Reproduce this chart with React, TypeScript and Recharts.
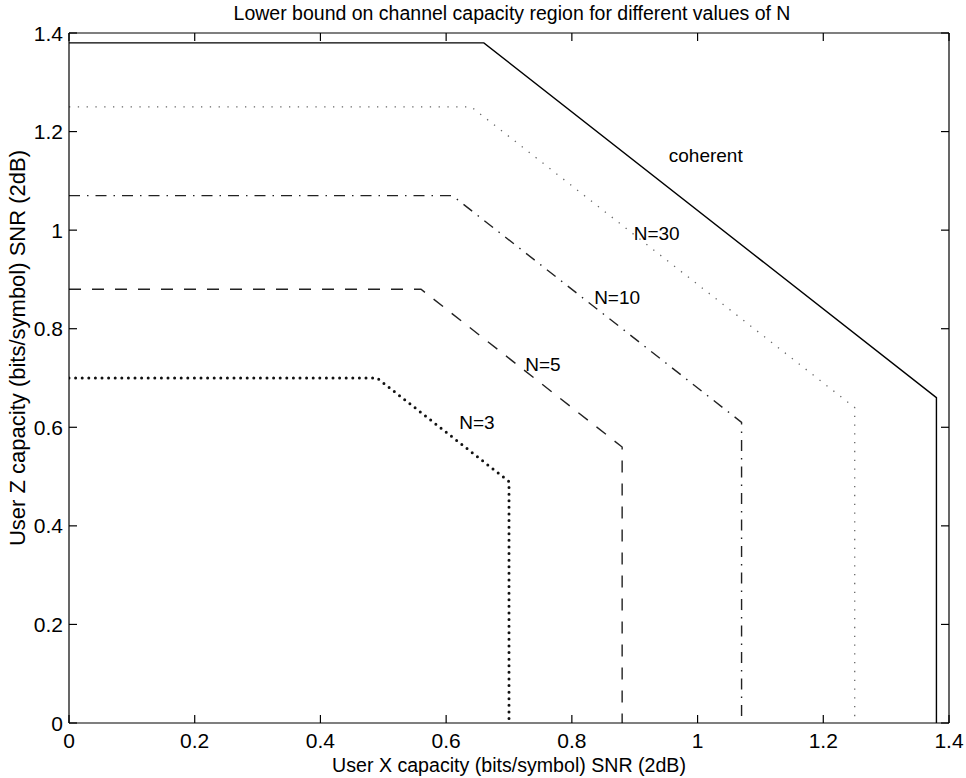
import { LineChart, Line, XAxis, YAxis, ReferenceDot, ReferenceLine } from "recharts";

// corner points of each capacity region boundary
const coherentX = [0, 0.66, 1.38, 1.38];
const coherentY = [1.38, 1.38, 0.66, 0];
const n30X = [0, 0.64, 1.25, 1.25];
const n30Y = [1.25, 1.25, 0.64, 0];
const n10X = [0, 0.61, 1.07, 1.07];
const n10Y = [1.07, 1.07, 0.61, 0];
const n5X = [0, 0.56, 0.88, 0.88];
const n5Y = [0.88, 0.88, 0.56, 0];
const n3X = [0, 0.49, 0.7, 0.7];
const n3Y = [0.7, 0.7, 0.49, 0];

const ticks = [0, 0.2, 0.4, 0.6, 0.8, 1, 1.2, 1.4];

// curve labels
const labelNames = ["coherent", "N=30", "N=10", "N=5", "N=3"];
const labelX = [1.013, 0.935, 0.872, 0.754, 0.649];
const labelY = [1.152, 0.994, 0.864, 0.728, 0.611];

const font = "'Liberation Sans', Arial, Helvetica, sans-serif";

// plot box (matches chart margins + axis sizes below)
const TOP = 33;
const RIGHT = 949;
const TICK = 8;
const TICK_FONT = 21;

const toPoints = (xs: number[], ys: number[]) =>
  xs.map((x, i) => ({ x, y: ys[i] }));

const fmt = (v: number) => String(Number(v.toFixed(1)));

// bottom tick: inward tick mark at bottom and top of the box, plus label
const XTick = (props: any) => {
  const { x, y, payload } = props;
  return (
    <g>
      <line x1={x} y1={y} x2={x} y2={y - TICK} stroke="#000" strokeWidth={1.2} />
      <line x1={x} y1={TOP} x2={x} y2={TOP + TICK} stroke="#000" strokeWidth={1.2} />
      <text
        x={x}
        y={y + 25}
        textAnchor="middle"
        fontSize={TICK_FONT}
        fontFamily={font}
        fill="#000"
      >
        {fmt(payload.value)}
      </text>
    </g>
  );
};

// left tick: inward tick mark at left and right of the box, plus label
const YTick = (props: any) => {
  const { x, y, payload } = props;
  return (
    <g>
      <line x1={x} y1={y} x2={x + TICK} y2={y} stroke="#000" strokeWidth={1.2} />
      <line x1={RIGHT} y1={y} x2={RIGHT - TICK} y2={y} stroke="#000" strokeWidth={1.2} />
      <text
        x={x - 6}
        y={y + 7.5}
        textAnchor="end"
        fontSize={TICK_FONT}
        fontFamily={font}
        fill="#000"
      >
        {fmt(payload.value)}
      </text>
    </g>
  );
};

export default function App() {
  return (
    <div
      style={{
        position: "absolute",
        left: 0,
        top: 0,
        width: 966,
        height: 778,
        background: "#fff",
        fontFamily: font,
        color: "#000",
      }}
    >
      <div
        style={{
          position: "absolute",
          left: 0,
          width: 1024,
          top: 1,
          textAlign: "center",
          fontSize: 19.5,
          lineHeight: "24px",
        }}
      >
        Lower bound on channel capacity region for different values of N
      </div>
      <div
        style={{
          position: "absolute",
          left: 0,
          width: 1018,
          top: 753,
          textAlign: "center",
          fontSize: 19.6,
          lineHeight: "24px",
        }}
      >
        User X capacity (bits/symbol) SNR (2dB)
      </div>
      <div
        style={{
          position: "absolute",
          left: 18 - 250,
          top: 348 - 12,
          width: 500,
          textAlign: "center",
          fontSize: 22,
          lineHeight: "24px",
          transform: "rotate(-90deg)",
        }}
      >
        User Z capacity (bits/symbol) SNR (2dB)
      </div>
      <LineChart
        width={966}
        height={778}
        margin={{ top: TOP, right: 966 - RIGHT, bottom: 0, left: 0 }}
        style={{ position: "absolute", left: 0, top: 0 }}
      >
        <XAxis
          dataKey="x"
          type="number"
          domain={[0, 1.4]}
          ticks={ticks}
          height={55}
          tickSize={0}
          tickMargin={0}
          tickLine={false}
          stroke="#000"
          strokeWidth={1.2}
          tick={<XTick />}
          allowDataOverflow
        />
        <YAxis
          dataKey="y"
          type="number"
          domain={[0, 1.4]}
          ticks={ticks}
          width={69}
          tickSize={0}
          tickMargin={0}
          tickLine={false}
          stroke="#000"
          strokeWidth={1.2}
          tick={<YTick />}
          allowDataOverflow
        />
        <ReferenceLine y={1.4} stroke="#000" strokeWidth={1.2} />
        <ReferenceLine x={1.4} stroke="#000" strokeWidth={1.2} />
        <Line
          data={toPoints(coherentX, coherentY)}
          dataKey="y"
          stroke="#000"
          strokeWidth={1.4}
          dot={false}
          isAnimationActive={false}
        />
        <Line
          data={toPoints(n30X, n30Y)}
          dataKey="y"
          stroke="#666"
          strokeWidth={1.3}
          strokeDasharray="1.3 7.5"
          dot={false}
          isAnimationActive={false}
        />
        <Line
          data={toPoints(n10X, n10Y)}
          dataKey="y"
          stroke="#222"
          strokeWidth={1.4}
          strokeDasharray="11 7 1.5 7"
          dot={false}
          isAnimationActive={false}
        />
        <Line
          data={toPoints(n5X, n5Y)}
          dataKey="y"
          stroke="#222"
          strokeWidth={1.4}
          strokeDasharray="12 11"
          dot={false}
          isAnimationActive={false}
        />
        <Line
          data={toPoints(n3X, n3Y)}
          dataKey="y"
          stroke="#111"
          strokeWidth={3}
          strokeLinecap="round"
          strokeDasharray="0 6.6"
          dot={false}
          isAnimationActive={false}
        />
        {labelNames.map((name, i) => (
          <ReferenceDot
            key={name}
            x={labelX[i]}
            y={labelY[i]}
            r={0}
            fill="none"
            stroke="none"
            label={{
              value: name,
              position: "center",
              fill: "#000",
              fontSize: 19,
              fontFamily: font,
            }}
          />
        ))}
      </LineChart>
    </div>
  );
}
